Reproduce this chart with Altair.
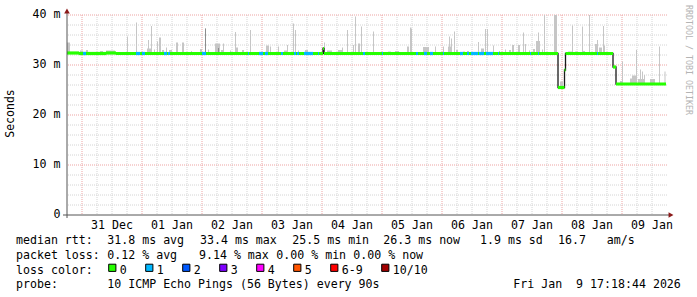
import altair as alt
import pandas as pd

# ---------------- data (time in hours since 31 Dec 00:00) ----------------
day_labels = ["31 Dec", "01 Jan", "02 Jan", "03 Jan", "04 Jan",
              "05 Jan", "06 Jan", "07 Jan", "08 Jan", "09 Jan"]
y_tick_ms = [0, 10, 20, 30, 40]
y_tick_labels = ["0  ", "10 m", "20 m", "30 m", "40 m"]

# median rtt (ms), step changes
med_t = [-6.0, -1.2, 9.6, 13.6, 96.4, 96.8, 190.4, 193.0, 193.4, 212.4, 213.6]
med_v = [32.4, 32.3, 32.4, 32.3, 33.3, 32.3, 25.5, 29.0, 32.3, 29.6, 26.2]
med_end = 233.6

# intervals with 1/10 packet loss
loss1_start = [0.4, 21.6, 24.0, 32.8, 34.4, 48.0, 66.4, 70.8, 73.2, 79.6, 84.8, 86.0,
               88.8, 94.4, 112.4, 120.0, 133.6, 136.8, 139.2, 144.4, 151.2, 154.0,
               155.6, 158.8, 161.6, 166.4, 179.2, 182.4, 206.0]
loss1_end = [1.6, 23.2, 25.2, 34.0, 35.2, 49.6, 66.8, 72.4, 74.4, 80.4, 85.6, 86.8,
             92.4, 94.8, 113.2, 120.4, 134.4, 138.0, 140.4, 144.8, 152.4, 154.8,
             158.4, 160.8, 164.4, 166.8, 179.6, 182.8, 206.4]

# smoke (spread of the pings): start, end, top (ms)
smoke_start = [-6.0, -0.8, 1.6, 7.2, 9.6, 18.0, 21.6, 26.0, 26.4, 27.6, 28.8, 30.0,
               30.8, 32.0, 33.6, 34.8, 37.6, 40.0, 43.6, 47.2, 49.2, 50.4, 53.2, 55.6,
               56.4, 59.2, 61.2, 61.6, 64.0, 67.2, 73.6, 75.2, 78.4, 80.8, 82.0, 84.4,
               85.2, 86.4, 89.2, 96.4, 96.8, 98.0, 102.4, 104.0, 106.0, 108.4, 109.2,
               110.4, 111.6, 116.4, 122.4, 125.2, 130.0, 131.2, 131.6, 136.4, 141.2,
               144.4, 146.4, 146.8, 147.6, 148.8, 149.6, 152.4, 154.0, 158.4, 159.6,
               161.2, 162.0, 164.4, 166.8, 169.2, 170.8, 172.0, 174.4, 176.4, 177.2,
               178.8, 180.4, 181.6, 182.4, 184.0, 184.8, 188.8, 191.2, 194.4, 196.0,
               197.2, 200.0, 200.4, 202.8, 205.2, 206.0, 206.8, 208.4, 208.4, 215.2,
               216.0, 219.2, 220.0, 221.6, 222.4, 223.2, 224.0, 224.8, 227.2, 230.8,
               233.0]
smoke_end = [-4.8, 0.4, 2.4, 8.4, 13.2, 18.4, 22.0, 28.0, 26.8, 28.0, 29.2, 30.4,
             31.6, 32.8, 34.0, 36.0, 38.4, 40.8, 44.0, 48.0, 49.6, 50.8, 55.2, 56.4,
             56.8, 59.6, 61.6, 62.4, 64.8, 67.6, 74.8, 75.6, 78.8, 82.0, 82.4, 84.8,
             85.6, 86.8, 90.4, 96.8, 97.2, 100.0, 104.0, 104.4, 106.4, 108.8, 109.6,
             111.2, 112.0, 116.8, 123.6, 126.8, 130.8, 131.6, 132.0, 138.8, 141.6,
             144.8, 147.6, 147.2, 148.0, 149.2, 150.4, 153.2, 154.8, 158.8, 160.8,
             161.6, 162.4, 164.8, 167.2, 169.6, 171.6, 172.8, 175.2, 176.8, 177.6,
             179.2, 181.2, 183.2, 182.8, 184.4, 185.2, 190.0, 192.4, 196.0, 196.4,
             198.4, 200.4, 201.2, 203.2, 206.0, 206.4, 208.0, 209.2, 208.8, 216.4,
             216.4, 220.4, 222.0, 222.0, 225.2, 223.6, 224.4, 225.2, 229.2, 231.2,
             233.4]
smoke_top = [34.5, 32.9, 33.0, 32.8, 32.9, 35.7, 38.5, 33.3, 35.0, 37.8, 33.1, 34.7,
             35.5, 33.0, 33.5, 33.0, 34.5, 34.5, 32.8, 33.2, 37.3, 33.1, 34.3, 33.0,
             34.3, 32.9, 36.6, 33.5, 33.0, 37.0, 33.9, 33.7, 33.7, 32.9, 34.0, 38.3,
             37.0, 32.9, 33.0, 33.5, 34.5, 32.9, 33.0, 33.5, 37.0, 34.0, 39.7,
             34.3, 37.7, 36.7, 32.7, 32.8, 33.7, 37.5, 37.3, 33.6, 33.7,
             33.7, 33.7, 35.7, 35.3, 36.7, 33.0, 32.7, 32.8, 34.6, 33.3,
             37.2, 37.2, 33.9, 32.8, 33.1, 33.0, 34.0, 34.0, 36.5, 34.2,
             32.9, 33.2, 34.8, 36.5, 33.1, 40.0, 40.0, 26.7, 32.7, 37.9,
             32.7, 37.7, 32.8, 40.0, 34.2, 35.0, 33.5, 33.9, 37.8, 26.8,
             30.7, 27.3, 27.9, 33.0, 27.2, 29.1, 28.7, 28.0, 27.2, 33.7,
             28.7]

# darker smoke
dark_start = [49.2, 54.4, 96.4]
dark_end = [49.6, 54.8, 96.8]
dark_top = [37.3, 33.4, 33.6]

loss_labels = ["0", "1", "2", "3", "4", "5", "6-9", "10/10"]
loss_colors = ["#26ff00", "#00b8ff", "#0059ff", "#7e00ff", "#ff00ff", "#ff5500", "#ff0000", "#a10000"]

rtt_stats = ["31.8 ms avg", "33.4 ms max", "25.5 ms min", "26.3 ms now", "1.9 ms sd", "16.7", "am/s"]
loss_stats = ["0.12 % avg", "9.14 % max", "0.00 % min", "0.00 % now"]
probe_text = "10 ICMP Echo Pings (56 Bytes) every 90s"
stamp_text = "Fri Jan  9 17:18:44 2026"

# ---------------- helpers ----------------
def median_at(t):
    v = med_v[0]
    for tt, vv in zip(med_t, med_v):
        if tt <= t + 1e-9:
            v = vv
    return v

L, T = 67, 15            # plot origin on the page
W, H = 600, 200
X0, X1 = -6, 234         # x domain (hours)
Y0, Y1 = 0, 40           # y domain (ms)

def hx(px):              # page x pixel -> hours (annotation placement only)
    return X0 + (px - L) * (X1 - X0) / W

def my(py):              # page y pixel -> ms (annotation placement only)
    return Y1 - (py - T) * (Y1 - Y0) / H

def nb(s):
    return s.replace(" ", "\u00a0")

xs = alt.Scale(domain=[X0, X1], nice=False, zero=False)
ys = alt.Scale(domain=[Y0, Y1], nice=False, zero=False)

smoke_df = pd.DataFrame({"t0": smoke_start, "t1": smoke_end, "top": smoke_top,
                         "low": [median_at(t) - 0.2 for t in smoke_start]})
dark_df = pd.DataFrame({"t0": dark_start, "t1": dark_end, "top": dark_top,
                        "low": [median_at(t) - 0.2 for t in dark_start]})

step_df = pd.DataFrame({"t": med_t + [med_end], "v": med_v + [med_v[-1]]})

seg_rows = []
ends = med_t[1:] + [med_end]
for a, b, v in zip(med_t, ends, med_v):
    seg_rows.append({"t0": a, "t1": b, "v": v, "c": loss_colors[0]})
for a, b in zip(loss1_start, loss1_end):
    seg_rows.append({"t0": a, "t1": b, "v": median_at(a), "c": loss_colors[1]})
seg_df = pd.DataFrame(seg_rows)

# grid lines
MGRID, GRID = "#eda3a3", "#d4d4d4"
vgrid = pd.DataFrame({"t": list(range(0, 234, 6))})
vgrid["c"] = [MGRID if t % 24 == 0 else GRID for t in vgrid["t"]]
hgrid = pd.DataFrame({"v": list(range(2, 41, 2))})
hgrid["c"] = [MGRID if v % 10 == 0 else GRID for v in hgrid["v"]]

x_axis = alt.Axis(values=list(range(0, 234, 6)), labels=False, grid=False,
                  tickSize=3, title=None, domain=False)
y_axis = alt.Axis(values=list(range(0, 41, 2)), labels=False, grid=False,
                  tickSize=2, title=None, domain=False)

vg = alt.Chart(vgrid).mark_rule(strokeDash=[1, 1], strokeWidth=1).encode(
    x=alt.X("t:Q", scale=xs, axis=None), color=alt.Color("c:N", scale=None))
hg = alt.Chart(hgrid).mark_rule(strokeDash=[1, 1], strokeWidth=1).encode(
    y=alt.Y("v:Q", scale=ys, axis=None), color=alt.Color("c:N", scale=None))

smoke = alt.Chart(smoke_df).mark_rect(color="#c6c6c6", clip=True).encode(
    x=alt.X("t0:Q", scale=xs, axis=x_axis), x2="t1",
    y=alt.Y("top:Q", scale=ys, axis=y_axis), y2="low")

dark = alt.Chart(dark_df).mark_rect(color="#8c8c8c", clip=True).encode(
    x=alt.X("t0:Q", scale=xs, axis=None), x2="t1",
    y=alt.Y("top:Q", scale=ys, axis=None), y2="low")

step = alt.Chart(step_df).mark_line(interpolate="step-after", color="#1a1a1a", strokeWidth=1.3).encode(
    x=alt.X("t:Q", scale=xs, axis=None), y=alt.Y("v:Q", scale=ys, axis=None))

segs = alt.Chart(seg_df).mark_rule(strokeWidth=3.2).encode(
    x=alt.X("t0:Q", scale=xs, axis=None), x2="t1",
    y=alt.Y("v:Q", scale=ys, axis=None), color=alt.Color("c:N", scale=None))

one = pd.DataFrame({"k": [0]})
axis_col = "#555555"
yline = alt.Chart(one).mark_rule(color=axis_col, strokeWidth=1).encode(
    x=alt.value(0), y=alt.value(-3), y2=alt.value(H + 3))
xline = alt.Chart(one).mark_rule(color=axis_col, strokeWidth=1).encode(
    x=alt.value(-4), x2=alt.value(W + 3), y=alt.value(H))
arrow_up = alt.Chart(one).mark_point(shape="triangle-up", filled=True, size=32, color="#8b1a1a", opacity=1).encode(
    x=alt.value(0), y=alt.value(-4))
arrow_right = alt.Chart(one).mark_point(shape="triangle-right", filled=True, size=32, color="#8b1a1a", opacity=1).encode(
    x=alt.value(W + 4), y=alt.value(H))

MONO = "DejaVu Sans Mono"

# axis labels as text
xlab_df = pd.DataFrame({"t": [12 + 24 * i for i in range(len(day_labels))],
                        "v": [my(228.5)] * len(day_labels),
                        "text": [nb(d) for d in day_labels]})
xlabels = alt.Chart(xlab_df).mark_text(
    align="center", baseline="alphabetic", font=MONO, fontSize=11.6, color="#000000").encode(
    x=alt.X("t:Q", scale=xs, axis=None), y=alt.Y("v:Q", scale=ys, axis=None), text="text:N")

ylab_df = pd.DataFrame({"t": [hx(60.5)] * len(y_tick_ms), "v": y_tick_ms,
                        "text": [nb(s) for s in y_tick_labels]})
ylabels = alt.Chart(ylab_df).mark_text(
    align="right", baseline="middle", font=MONO, fontSize=11.6, color="#000000").encode(
    x=alt.X("t:Q", scale=xs, axis=None), y=alt.Y("v:Q", scale=ys, axis=None), text="text:N")

# ---------------- legend / annotation text ----------------
rows = []
def add(txt, ax, base):
    rows.append({"text": nb(txt), "tx": hx(ax), "ty": my(base)})

b1, b2, b3, b4 = 244.2, 258.9, 273.5, 288.2
add("median rtt:", 16, b1)
for s, ax in zip(rtt_stats, [107.3, 200, 292.3, 383.3, 480, 558, 606.7]):
    add(s, ax, b1)
add("packet loss:", 16, b2)
for s, ax in zip(loss_stats, [107.3, 199, 276.3, 353.3]):
    add(s, ax, b2)
add("loss color:", 16, b3)
box_rows = []
bx = 108.3
for lab, col in zip(loss_labels, loss_colors):
    box_rows.append({"tx": hx(bx + 4), "ty": my(267.8), "c": col})
    add(lab, bx + 11.5, b3)
    bx += 37 + 7 * (len(lab) - 1)
add("probe:", 16, b4)
add(probe_text, 107.3, b4)
add(stamp_text, 513.3, b4)
text_df = pd.DataFrame(rows)
box_df = pd.DataFrame(box_rows)

legend_text = alt.Chart(text_df).mark_text(
    align="left", baseline="alphabetic", font=MONO, fontSize=11.6, color="#000000").encode(
    x=alt.X("tx:Q", scale=xs, axis=None), y=alt.Y("ty:Q", scale=ys, axis=None), text="text:N")

boxes = alt.Chart(box_df).mark_square(size=52, stroke="#000000", strokeWidth=1, opacity=1).encode(
    x=alt.X("tx:Q", scale=xs, axis=None), y=alt.Y("ty:Q", scale=ys, axis=None),
    fill=alt.Color("c:N", scale=None))

ylabel = alt.Chart(pd.DataFrame({"text": ["Seconds"]})).mark_text(
    angle=270, align="center", baseline="middle", font=MONO, fontSize=11.5, color="#000000").encode(
    x=alt.value(10.5 - L), y=alt.value(113.5 - T), text="text:N")

credit = alt.Chart(pd.DataFrame({"text": ["RRDTOOL / TOBI OETIKER"]})).mark_text(
    angle=90, align="center", baseline="middle", font=MONO, fontSize=8.3, color="#b4b4b4").encode(
    x=alt.value(687.5 - L), y=alt.value(60 - T), text="text:N")

chart = alt.layer(vg, hg, smoke, dark, step, segs, yline, xline, arrow_up, arrow_right,
                  xlabels, ylabels, legend_text, boxes, ylabel, credit).properties(
    width=W, height=H,
    autosize=alt.AutoSizeParams(type="none"),
    padding={"left": L, "top": T, "right": 697 - L - W, "bottom": 297 - T - H},
    background="#ffffff",
).configure_view(stroke=None).configure_axis(tickColor=axis_col)

chart.save("out.html", embed_options={"renderer": "svg", "actions": False})
